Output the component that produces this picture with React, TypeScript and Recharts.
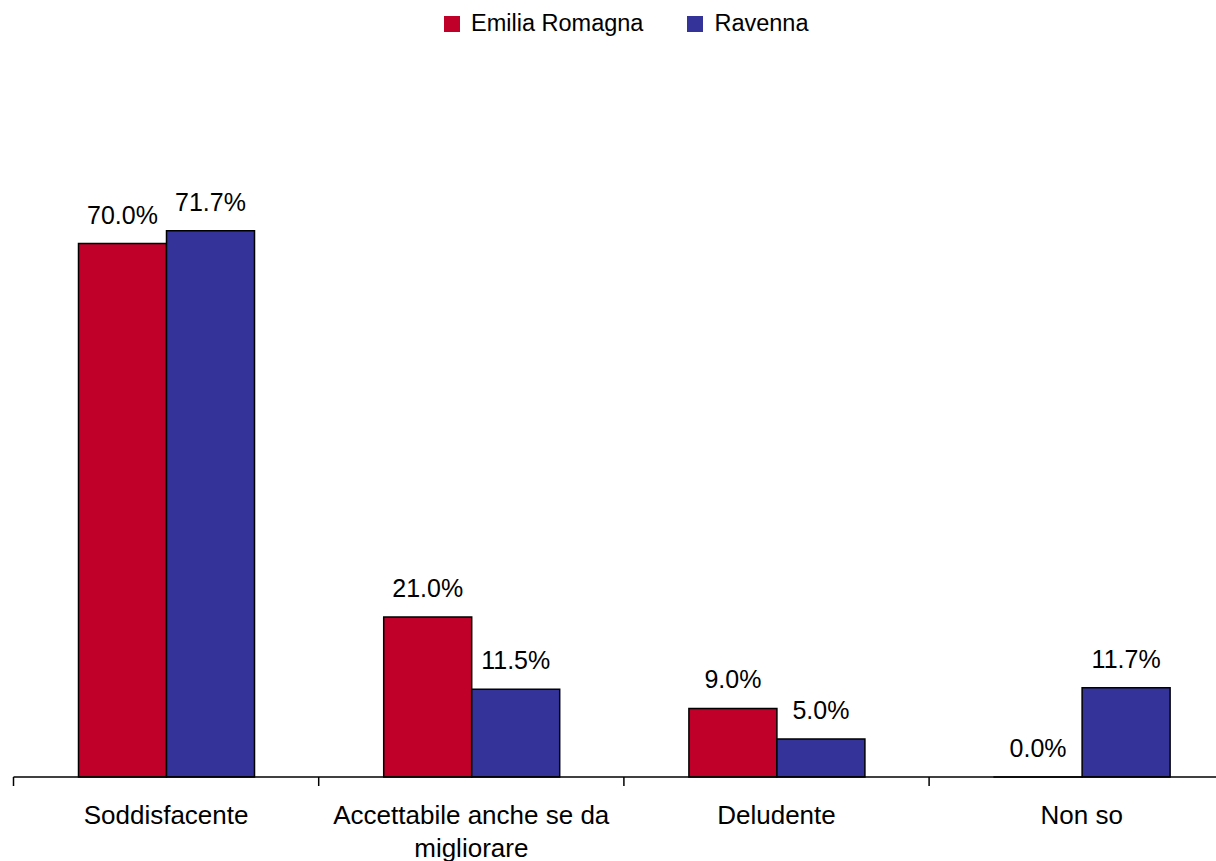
import {Bar, BarChart, LabelList, Legend, XAxis, YAxis} from 'recharts';

const categories = ['Soddisfacente', 'Accettabile anche se da migliorare', 'Deludente', 'Non so'];
const emiliaRomagna = [70.0, 21.0, 9.0, 0.0];
const ravenna = [71.7, 11.5, 5.0, 11.7];
const seriesNames = ['Emilia Romagna', 'Ravenna'];
const COLORS = ['#C00028', '#333399'];

const data = categories.map((name, i) => ({name, er: emiliaRomagna[i], ra: ravenna[i]}));

const FONT = '"Liberation Sans", Arial, sans-serif';
const W = 1240;
const H = 861;
const MARGIN = {top: 167.4, right: 5.7, bottom: 0, left: 13.5};
const BAND = (W - MARGIN.left - MARGIN.right) / categories.length;

// greedy word wrap, roughly like the original chart
function wrap(label: string, maxChars = 24) {
    const lines: string[] = [];
    let cur = '';
    for (const w of label.split(' ')) {
        const next = cur ? `${cur} ${w}` : w;
        if (next.length > maxChars && cur) {
            lines.push(cur);
            cur = w;
        } else {
            cur = next;
        }
    }
    if (cur) lines.push(cur);
    return lines;
}

function CategoryTick(props: any) {
    const {x, y, payload} = props;
    const lines = wrap(String(payload.value));
    return (
        <g>
            <line x1={x - BAND / 2} x2={x - BAND / 2} y1={y} y2={y + 9} stroke="#000" strokeWidth={1.5}/>
            <text x={x} y={y + 47} textAnchor="middle" fill="#000" style={{fontSize: 26, fontFamily: FONT}}>
                {lines.map((l, i) => (
                    <tspan key={i} x={x} dy={i === 0 ? 0 : 33}>{l}</tspan>
                ))}
            </text>
        </g>
    );
}

function LegendBox() {
    return (
        <div style={{display: 'flex', alignItems: 'center', fontFamily: FONT, fontSize: 23.5, color: '#000'}}>
            {seriesNames.map((n, i) => (
                <div key={n} style={{display: 'flex', alignItems: 'center', marginRight: i === 0 ? 44 : 0}}>
                    <span style={{width: 16, height: 16, background: COLORS[i], marginRight: 11, display: 'inline-block'}}/>
                    <span>{n}</span>
                </div>
            ))}
        </div>
    );
}

const pct = (v: any) => `${Number(v).toFixed(1)}%`;

export default function App() {
    return (
        <div style={{position: 'absolute', left: 0, top: 0, width: 1216, height: 861, overflow: 'hidden', background: '#fff'}}>
            <BarChart width={W} height={H} data={data} margin={MARGIN} barGap={0} barCategoryGap="21.3%">
                <XAxis
                    dataKey="name"
                    height={84}
                    tickLine={false}
                    tickSize={0}
                    tickMargin={0}
                    axisLine={{stroke: '#000', strokeWidth: 1.5}}
                    tick={<CategoryTick/>}
                    interval={0}
                />
                <YAxis hide domain={[0, 80]}/>
                <Legend
                    verticalAlign="middle"
                    align="center"
                    wrapperStyle={{top: 10, left: 444, width: 'auto'}}
                    content={() => <LegendBox/>}
                />
                <Bar dataKey="er" name={seriesNames[0]} fill={COLORS[0]} stroke="#000" strokeWidth={1.5}
                     minPointSize={0.01} isAnimationActive={false}>
                    <LabelList dataKey="er" position="top" offset={20} formatter={pct} fill="#000" style={{fontSize: 25, fontFamily: FONT}}/>
                </Bar>
                <Bar dataKey="ra" name={seriesNames[1]} fill={COLORS[1]} stroke="#000" strokeWidth={1.5}
                     minPointSize={0.01} isAnimationActive={false}>
                    <LabelList dataKey="ra" position="top" offset={20} formatter={pct} fill="#000" style={{fontSize: 25, fontFamily: FONT}}/>
                </Bar>
            </BarChart>
        </div>
    );
}
